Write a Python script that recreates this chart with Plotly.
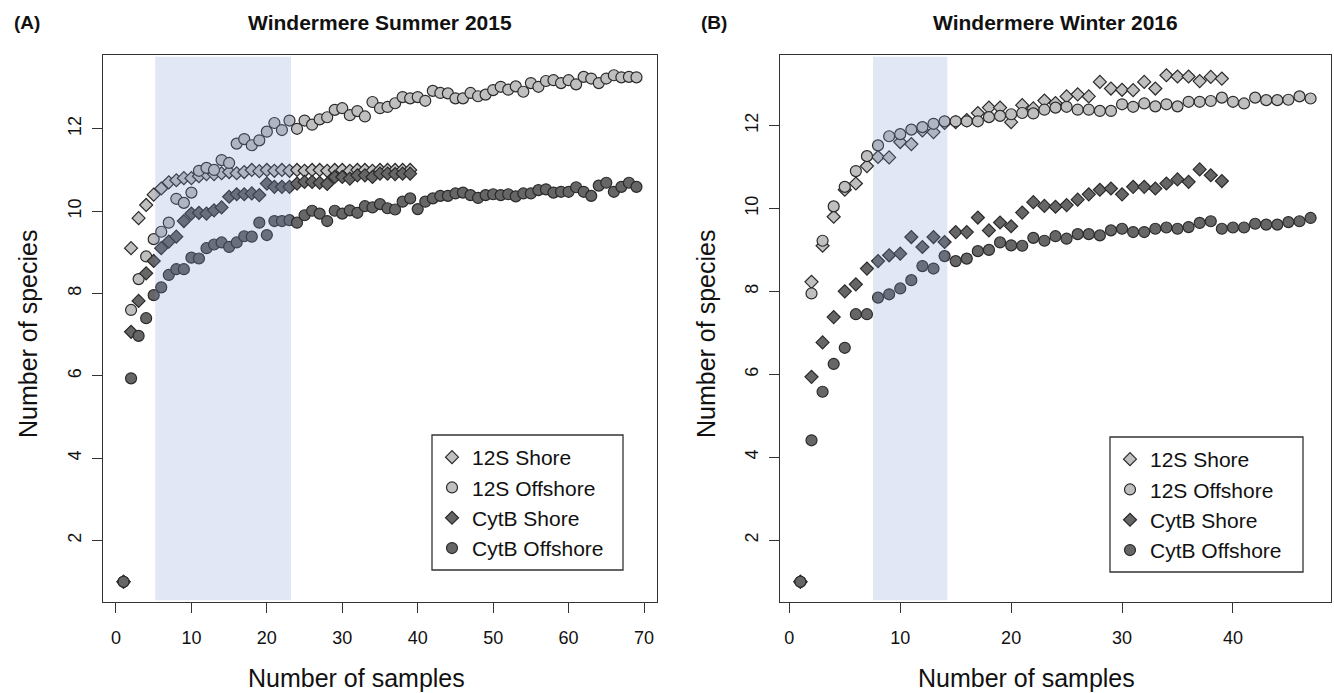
import plotly.graph_objects as go

# ---------------- data ----------------
series_names = ["12S Shore", "12S Offshore", "CytB Shore", "CytB Offshore"]

# Panel A: Windermere Summer 2015
a_12s_shore = [1.0, 9.1, 9.83, 10.15, 10.4, 10.55, 10.7, 10.75, 10.8, 10.8,
               10.85, 10.9, 10.9, 10.92, 10.95, 10.92, 10.95, 11.0, 10.97, 11.0,
               10.98, 11.0, 10.98, 11.0, 10.98, 11.0, 11.0, 10.98, 11.0, 11.0,
               10.98, 11.0, 11.0, 10.98, 11.0, 11.0, 11.0, 11.0, 11.0]
a_12s_off = [1.0, 7.6, 8.35, 8.9, 9.32, 9.5, 9.72, 10.3, 10.2, 10.45,
             10.98, 11.05, 11.0, 11.24, 11.17, 11.64, 11.75, 11.6, 11.72, 11.93,
             12.14, 11.97, 12.2, 12.0, 12.2, 12.1, 12.23, 12.28, 12.46, 12.5,
             12.33, 12.43, 12.3, 12.65, 12.5, 12.53, 12.62, 12.77, 12.74, 12.77,
             12.68, 12.92, 12.87, 12.86, 12.74, 12.74, 12.87, 12.79, 12.83, 12.94,
             13.02, 12.95, 13.03, 12.9, 13.11, 13.02, 13.16, 13.18, 13.11, 13.18,
             13.08, 13.26, 13.22, 13.11, 13.22, 13.3, 13.25, 13.26, 13.25]
a_cytb_shore = [1.0, 7.07, 7.82, 8.49, 8.79, 9.1, 9.26, 9.38, 9.76, 9.94,
                9.96, 9.94, 10.02, 10.09, 10.35, 10.41, 10.41, 10.43, 10.39, 10.67,
                10.59, 10.59, 10.59, 10.67, 10.71, 10.71, 10.69, 10.66, 10.83, 10.83,
                10.79, 10.87, 10.87, 10.83, 10.91, 10.91, 10.9, 10.91, 10.91]
a_cytb_off = [1.0, 5.94, 6.97, 7.4, 7.96, 8.15, 8.45, 8.59, 8.59, 8.87,
              8.85, 9.1, 9.19, 9.24, 9.13, 9.24, 9.39, 9.38, 9.72, 9.42,
              9.76, 9.76, 9.78, 9.72, 9.9, 10.01, 9.94, 9.76, 10.01, 9.94,
              10.02, 9.96, 10.12, 10.09, 10.17, 10.07, 10.04, 10.23, 10.31, 10.05,
              10.23, 10.31, 10.37, 10.37, 10.43, 10.45, 10.39, 10.32, 10.39, 10.41,
              10.39, 10.41, 10.36, 10.43, 10.43, 10.51, 10.53, 10.45, 10.47, 10.47,
              10.58, 10.47, 10.37, 10.62, 10.69, 10.47, 10.59, 10.69, 10.59]

# Panel B: Windermere Winter 2016
b_12s_shore = [1.0, 8.23, 9.1, 9.8, 10.45, 10.6, 11.02, 11.24, 11.23, 11.6,
               11.55, 11.88, 11.84, 12.06, 12.08, 12.13, 12.3, 12.43, 12.43, 12.08,
               12.49, 12.41, 12.6, 12.54, 12.7, 12.75, 12.7, 13.05, 12.89, 12.86,
               12.85, 13.05, 12.89, 13.21, 13.18, 13.18, 13.07, 13.17, 13.13]
b_12s_off = [1.0, 7.95, 9.22, 10.05, 10.52, 10.9, 11.26, 11.52, 11.74, 11.79,
             11.9, 11.96, 12.04, 12.1, 12.1, 12.1, 12.1, 12.2, 12.23, 12.27,
             12.3, 12.29, 12.38, 12.43, 12.45, 12.38, 12.38, 12.35, 12.35, 12.51,
             12.45, 12.53, 12.46, 12.51, 12.46, 12.57, 12.57, 12.59, 12.67, 12.57,
             12.53, 12.67, 12.61, 12.61, 12.62, 12.7, 12.65]
b_cytb_shore = [1.0, 5.94, 6.77, 7.38, 8.0, 8.17, 8.55, 8.73, 8.87, 8.91,
                9.31, 9.07, 9.31, 9.19, 9.43, 9.43, 9.78, 9.47, 9.66, 9.57,
                9.9, 10.15, 10.06, 10.04, 10.08, 10.21, 10.34, 10.45, 10.48, 10.34,
                10.52, 10.52, 10.48, 10.6, 10.7, 10.64, 10.94, 10.8, 10.66]
b_cytb_off = [1.0, 4.41, 5.58, 6.25, 6.64, 7.45, 7.45, 7.85, 7.93, 8.07,
              8.27, 8.61, 8.55, 8.85, 8.73, 8.79, 8.97, 9.0, 9.18, 9.11,
              9.1, 9.29, 9.22, 9.33, 9.27, 9.38, 9.38, 9.35, 9.47, 9.51,
              9.43, 9.43, 9.51, 9.54, 9.51, 9.55, 9.65, 9.69, 9.51, 9.54,
              9.54, 9.63, 9.61, 9.61, 9.67, 9.69, 9.77]

# shaded sampling windows (x ranges)
a_shade = (5.2, 23.2)
b_shade = (7.55, 14.25)

x_ticks_a = [0, 10, 20, 30, 40, 50, 60, 70]
x_ticks_b = [0, 10, 20, 30, 40]
y_ticks = [2, 4, 6, 8, 10, 12]

panel_titles = ["Windermere Summer 2015", "Windermere Winter 2016"]
panel_tags = ["(A)", "(B)"]
x_title = "Number of samples"
y_title = "Number of species"

# ---------------- style ----------------
FONT = "Liberation Sans, Arial, sans-serif"
W, H = 1334, 693
LIGHT = "#BFBFBF"
DARK = "#666666"
EDGE = "#2a2a2a"
TXT = "#111111"
styles = [
    dict(symbol="diamond", color=LIGHT, size=10),
    dict(symbol="circle", color=LIGHT, size=11),
    dict(symbol="diamond", color=DARK, size=10),
    dict(symbol="circle", color=DARK, size=11),
]


def r_range(vals):
    lo, hi = min(vals), max(vals)
    d = (hi - lo) * 0.04
    return [lo - d, hi + d]


fig = go.Figure()

panels = [
    dict(series=[a_12s_shore, a_12s_off, a_cytb_shore, a_cytb_off], xa="x", ya="y", legend="legend"),
    dict(series=[b_12s_shore, b_12s_off, b_cytb_shore, b_cytb_off], xa="x2", ya="y2", legend="legend2"),
]

for p in panels:
    for name, vals, st in zip(series_names, p["series"], styles):
        fig.add_trace(go.Scatter(
            x=list(range(1, len(vals) + 1)), y=vals, mode="markers", name=name,
            xaxis=p["xa"], yaxis=p["ya"], legend=p["legend"],
            marker=dict(symbol=st["symbol"], size=st["size"], color=st["color"],
                        line=dict(color=EDGE, width=1.2)),
        ))

all_a = a_12s_shore + a_12s_off + a_cytb_shore + a_cytb_off
all_b = b_12s_shore + b_12s_off + b_cytb_shore + b_cytb_off
xr_a = r_range([1, len(a_12s_off)])
xr_b = r_range([1, len(b_12s_off)])
yr_a = r_range(all_a)
yr_b = r_range(all_b)

ydom = [1 - 602 / H, 1 - 55 / H]
xdom_a = [103 / W, 657 / W]
xdom_b = [780 / W, 1331 / W]

axis_common = dict(showgrid=False, zeroline=False, showline=True, mirror=True,
                   linecolor="#333333", linewidth=1.3, ticks="outside", ticklen=10,
                   tickwidth=1.2, tickcolor="#333333",
                   tickfont=dict(family=FONT, size=18, color=TXT))

legend_common = dict(xanchor="left", yanchor="top", bgcolor="rgba(0,0,0,0)", borderwidth=0,
                     font=dict(family=FONT, size=21, color=TXT), tracegroupgap=0)

fig.update_layout(
    width=W, height=H, margin=dict(l=0, r=0, t=0, b=0),
    plot_bgcolor="white", paper_bgcolor="white",
    font=dict(family=FONT, color=TXT),
    xaxis=dict(domain=xdom_a, range=xr_a, tickvals=x_ticks_a, anchor="y",
               ticklabelstandoff=9, **axis_common),
    yaxis=dict(domain=ydom, range=yr_a, tickvals=y_ticks, anchor="x",
               tickangle=-90, ticklabelstandoff=4, **axis_common),
    xaxis2=dict(domain=xdom_b, range=xr_b, tickvals=x_ticks_b, anchor="y2",
                ticklabelstandoff=9, **axis_common),
    yaxis2=dict(domain=ydom, range=yr_b, tickvals=y_ticks, anchor="x2",
                tickangle=-90, ticklabelstandoff=4, **axis_common),
    legend=dict(x=432 / W, y=1 - 437 / H, **legend_common),
    legend2=dict(x=1110 / W, y=1 - 439 / H, **legend_common),
    showlegend=True,
)

shapes = []
for xa, ya, (s0, s1), yr in [("x", "y", a_shade, yr_a), ("x2", "y2", b_shade, yr_b)]:
    span = yr[1] - yr[0]
    shapes.append(dict(type="rect", xref=xa, yref=ya, x0=s0, x1=s1,
                       y0=yr[0] + span * 0.003, y1=yr[1] - span * 0.003,
                       fillcolor="rgba(125,145,210,0.22)", line=dict(width=0), layer="above"))
# legend boxes
for (x0, y0, x1, y1) in [(432, 435, 623, 570), (1110, 437, 1303, 572)]:
    shapes.append(dict(type="rect", xref="paper", yref="paper",
                       x0=x0 / W, x1=x1 / W, y0=1 - y1 / H, y1=1 - y0 / H,
                       line=dict(color="#333333", width=1.3), fillcolor="rgba(0,0,0,0)",
                       layer="above"))
fig.update_layout(shapes=shapes)

ann = []
for cx, title in [((xdom_a[0] + xdom_a[1]) / 2, panel_titles[0]), ((xdom_b[0] + xdom_b[1]) / 2, panel_titles[1])]:
    ann.append(dict(x=cx, y=1 - 22 / H, xref="paper", yref="paper", text="<b>%s</b>" % title,
                    xanchor="center", yanchor="middle",
                    showarrow=False, font=dict(family=FONT, size=21, color=TXT)))
for cx in [356, 1026]:
    ann.append(dict(x=cx / W, y=1 - 678 / H, xref="paper", yref="paper", text=x_title,
                    xanchor="center", yanchor="middle",
                    showarrow=False, font=dict(family=FONT, size=25, color=TXT)))
for px, tag in [(27, panel_tags[0]), (714, panel_tags[1])]:
    ann.append(dict(x=px / W, y=1 - 22 / H, xref="paper", yref="paper", text="<b>%s</b>" % tag,
                    xanchor="center", yanchor="middle",
                    showarrow=False, font=dict(family=FONT, size=19, color=TXT)))
for px in [28, 706]:
    ann.append(dict(x=px / W, y=1 - 334 / H, xref="paper", yref="paper", text=y_title,
                    xanchor="center", yanchor="middle",
                    textangle=-90, showarrow=False, font=dict(family=FONT, size=25, color=TXT)))
fig.update_layout(annotations=ann)

fig.write_html("out.html")
